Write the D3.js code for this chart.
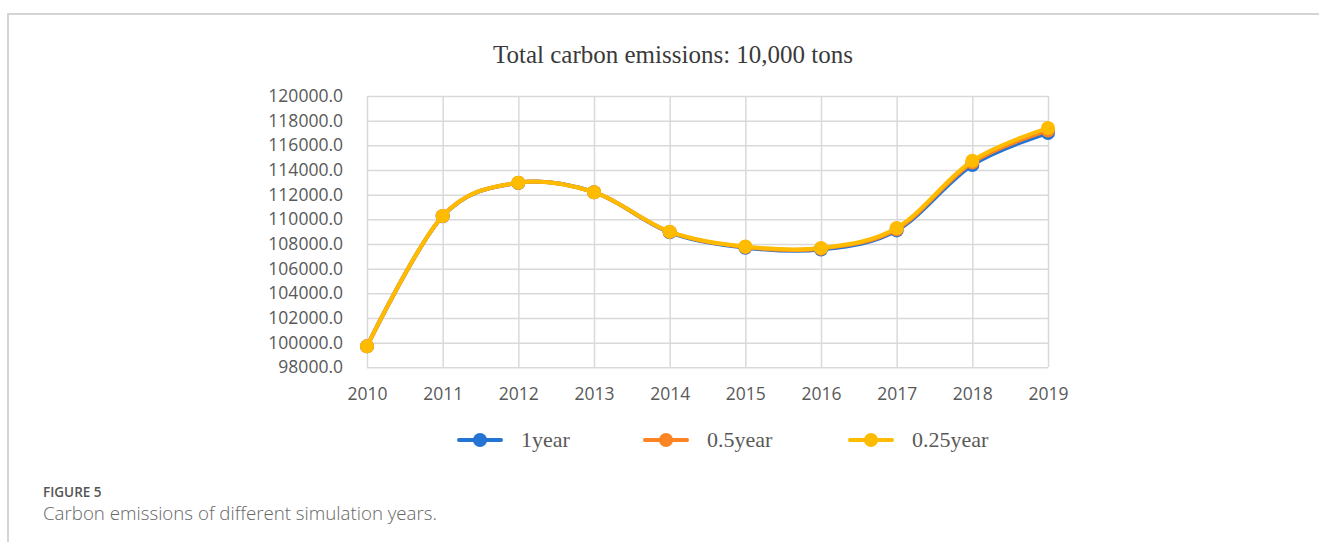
<!DOCTYPE html>
<html>
<head>
<meta charset="utf-8">
<script src="https://cdn.jsdelivr.net/npm/d3@7/dist/d3.min.js"></script>
<style>
  html, body { margin: 0; padding: 0; background: #fff; }
  svg { display: block; }
</style>
</head>
<body>
<script>
// Simulated total carbon emissions (10,000 tons) by simulation step size
const years = ["2010", "2011", "2012", "2013", "2014", "2015", "2016", "2017", "2018", "2019"];
const oneYear = [99700, 110250, 112950, 112200, 108950, 107700, 107550, 109100, 114400, 117000];
const halfYear = [99700, 110260, 112960, 112200, 108980, 107750, 107620, 109200, 114600, 117200];
const quarterYear = [99700, 110270, 112970, 112200, 109000, 107800, 107680, 109300, 114750, 117400];
const seriesNames = ["1year", "0.5year", "0.25year"];
const yTicks = [98000, 100000, 102000, 104000, 106000, 108000, 110000, 112000, 114000, 116000, 118000, 120000];

const colors = ["#2474d4", "#fb8423", "#ffbb00"];
const seriesValues = [oneYear, halfYear, quarterYear];

const W = 1319, H = 542;
const svg = d3.select("body").append("svg").attr("width", W).attr("height", H);

// Panel frame (top and left rules)
svg.append("line").attr("x1", 7).attr("x2", W).attr("y1", 14).attr("y2", 14)
  .attr("stroke", "#d4d4d4").attr("stroke-width", 2);
svg.append("line").attr("x1", 8).attr("x2", 8).attr("y1", 14).attr("y2", H)
  .attr("stroke", "#d4d4d4").attr("stroke-width", 2);

const plot = { left: 367, right: 1048, top: 96, bottom: 367.3 };

const x = d3.scalePoint().domain(years).range([plot.left, plot.right]);
const y = d3.scaleLinear().domain([98000, 120000]).range([plot.bottom, plot.top]);

// Title
svg.append("text")
  .attr("x", 673).attr("y", 63)
  .attr("text-anchor", "middle")
  .attr("font-family", "'Liberation Serif', 'Times New Roman', serif")
  .attr("font-size", 25)
  .attr("fill", "#3a3a3a")
  .text("Total carbon emissions: 10,000 tons");

// Horizontal gridlines + y labels
const yAxis = svg.append("g")
  .attr("transform", `translate(${plot.left},0)`)
  .call(d3.axisLeft(y).tickValues(yTicks).tickFormat(d3.format(".1f"))
    .tickSize(-(plot.right - plot.left)).tickPadding(24));
yAxis.select(".domain").remove();
yAxis.selectAll(".tick line").attr("stroke", "#d9d9d9").attr("stroke-width", 1.5);
yAxis.selectAll(".tick text")
  .attr("font-family", "'Open Sans', sans-serif")
  .attr("font-size", 17.5)
  .attr("fill", "#595959");

// Vertical gridlines + x labels
const xAxis = svg.append("g")
  .attr("transform", `translate(0,${plot.bottom})`)
  .call(d3.axisBottom(x).tickSize(-(plot.bottom - plot.top)).tickPadding(20));
xAxis.select(".domain").remove();
xAxis.selectAll(".tick line").attr("stroke", "#d9d9d9").attr("stroke-width", 1.5);
xAxis.selectAll(".tick text")
  .attr("font-family", "'Open Sans', sans-serif")
  .attr("font-size", 17.5)
  .attr("fill", "#595959");

// Smoothed series lines with markers
const line = d3.line()
  .x((d, i) => x(years[i]))
  .y(d => y(d))
  .curve(d3.curveCardinal.tension(0));

seriesValues.forEach((vals, k) => {
  svg.append("path")
    .datum(vals)
    .attr("d", line)
    .attr("fill", "none")
    .attr("stroke", colors[k])
    .attr("stroke-width", 4)
    .attr("stroke-linecap", "round");
  svg.append("g").selectAll("circle")
    .data(vals)
    .join("circle")
    .attr("cx", (d, i) => x(years[i]))
    .attr("cy", d => y(d))
    .attr("r", 7)
    .attr("fill", colors[k]);
});

// Legend
const legendX = [480, 666, 871];
const legend = svg.append("g");
seriesNames.forEach((name, k) => {
  const g = legend.append("g").attr("transform", `translate(${legendX[k]},440)`);
  g.append("line").attr("x1", -21).attr("x2", 21).attr("y1", 0).attr("y2", 0)
    .attr("stroke", colors[k]).attr("stroke-width", 4).attr("stroke-linecap", "round");
  g.append("circle").attr("r", 7).attr("fill", colors[k]);
  g.append("text")
    .attr("x", 41).attr("y", 7)
    .attr("font-family", "'Liberation Serif', 'Times New Roman', serif")
    .attr("font-size", 22)
    .attr("fill", "#595959")
    .text(name);
});

// Caption
svg.append("text")
  .attr("x", 43).attr("y", 497)
  .attr("font-family", "'Open Sans', sans-serif")
  .attr("font-size", 13.5)
  .attr("font-weight", 600)
  .attr("fill", "#555")
  .text("FIGURE 5");
svg.append("text")
  .attr("x", 43).attr("y", 520)
  .attr("font-family", "'Open Sans', sans-serif")
  .attr("font-size", 18.7)
  .attr("font-weight", 300)
  .attr("fill", "#666")
  .text("Carbon emissions of different simulation years.");
</script>
</body>
</html>
